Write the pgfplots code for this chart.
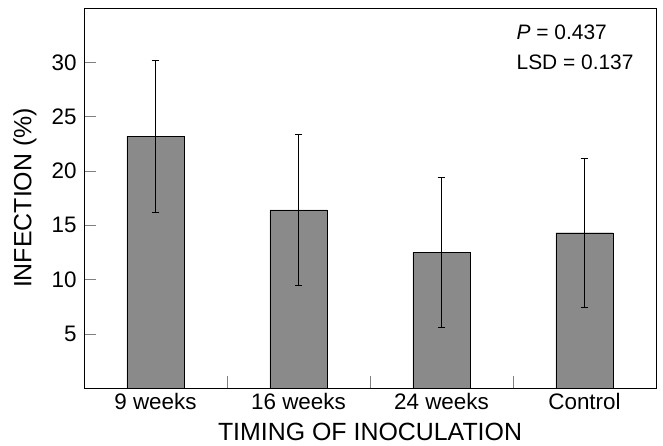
\documentclass[border=0pt]{standalone}
\usepackage{pgfplots}
\pgfplotsset{compat=1.18}
\usepackage{fontspec}
\setmainfont{Liberation Sans}
\begin{document}
\begin{tikzpicture}
\begin{axis}[name=ax,
  width=572bp, height=380bp, scale only axis,
  xmin=-0.5, xmax=3.5, ymin=0, ymax=35,
  xtick={0.5,1.5,2.5}, xticklabels={},
  extra x ticks={0,1,2,3}, extra x tick labels={9 weeks,16 weeks,24 weeks,Control},
  extra x tick style={major tick length=0pt},
  ytick={5,10,15,20,25,30},
  major tick length=12bp,
  tick align=inside, ytick pos=left, xtick pos=bottom,
  axis line style={thick},
  /pgf/number format/assume math mode=true,
  tick label style={font=\fontsize{22.5}{26}\selectfont},
  yticklabel style={xshift=-4bp},
  xticklabel style={yshift=-2pt},
]
\addplot[ybar, bar width=0.4, fill=black!46, draw=black,
  error bars/.cd, y dir=both, y explicit, error bar style={black}, error mark options={rotate=90,mark size=4pt}]
  coordinates {(0,23.2) +- (0,7.0) (1,16.4) +- (0,6.95) (2,12.5) +- (0,6.9) (3,14.3) +- (0,6.9)};
\node[anchor=north west, align=left, font=\fontsize{21}{30}\selectfont, inner sep=0pt] at (rel axis cs:0.756,0.955)
  {\textit{P} = 0.437\\LSD = 0.137};
\end{axis}
\node[anchor=base, font=\fontsize{25}{30}\selectfont] at ([yshift=-52bp]ax.south) {TIMING OF INOCULATION};
\node[rotate=90, anchor=center, font=\fontsize{25}{30}\selectfont] at ([xshift=-59bp]ax.west) {INFECTION (\%)};
\pgfresetboundingbox
\useasboundingbox ([xshift=-84bp,yshift=8bp]ax.north west) rectangle ([xshift=7bp,yshift=-57bp]ax.south east);
\end{tikzpicture}
\end{document}
